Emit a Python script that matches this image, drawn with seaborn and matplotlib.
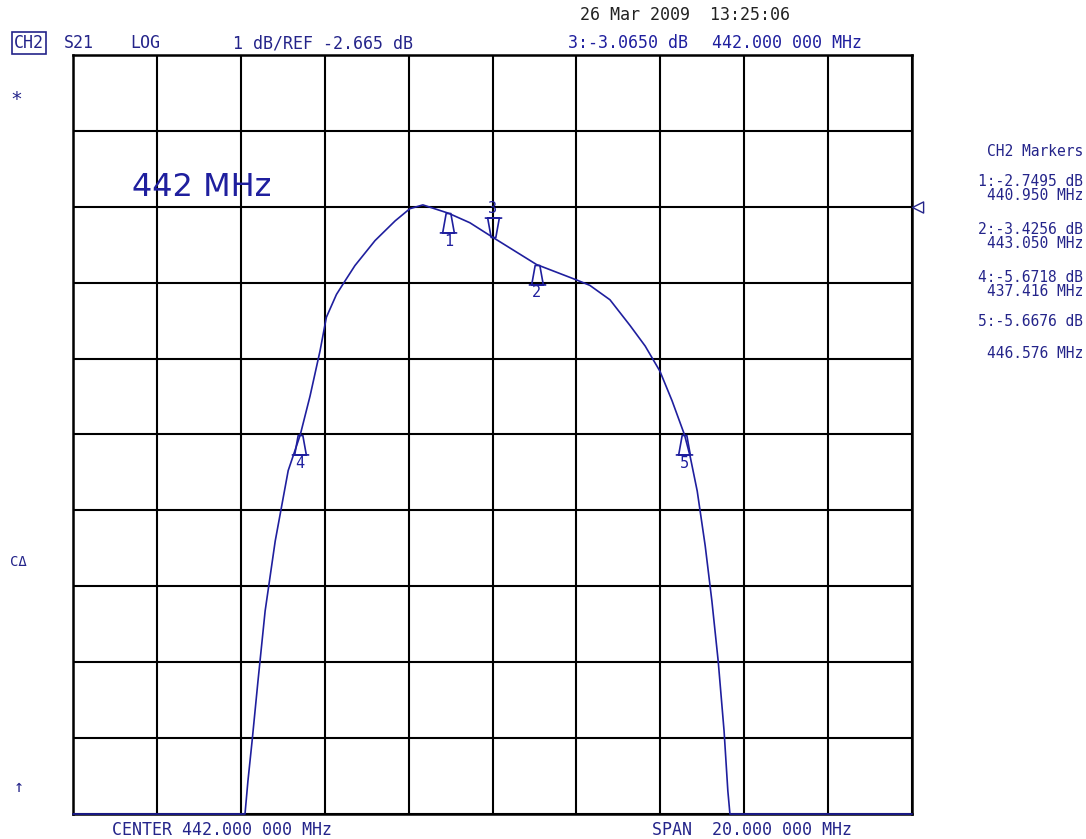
import numpy as np
import pandas as pd
import seaborn as sns
from matplotlib import pyplot as plt
from matplotlib.path import Path

# analyzer setup
center_mhz = 442.0
span_mhz = 20.0
ref_db = -2.665
db_per_div = 1.0
ref_pos = 8  # divisions from bottom

# S21 trace
trace_freq = [432.0, 436.0, 436.10, 436.17, 436.27, 436.41, 436.58, 436.82, 437.13, 437.416,
              437.65, 437.89, 438.04, 438.28, 438.44, 438.72, 439.20, 439.68, 440.03, 440.34,
              440.95, 441.46, 442.0, 443.05, 444.01, 444.32, 444.80, 445.28, 445.64, 445.99,
              446.28, 446.576, 446.71, 446.88, 447.07, 447.23, 447.38, 447.52, 447.61, 447.66,
              447.75, 452.0]
trace_db = [-30.0, -12.0, -10.68, -10.23, -9.70, -8.91, -7.99, -7.07, -6.14, -5.6718,
            -5.16, -4.56, -4.12, -3.82, -3.68, -3.44, -3.11, -2.85, -2.69, -2.64,
            -2.7495, -2.875, -3.065, -3.4256, -3.63, -3.70, -3.89, -4.23, -4.50, -4.83,
            -5.22, -5.6676, -5.95, -6.41, -7.13, -7.86, -8.65, -9.57, -10.36, -10.68,
            -12.0, -30.0]

# markers
marker_ids = [1, 2, 3, 4, 5]
marker_freq = [440.950, 443.050, 442.000, 437.416, 446.576]
marker_db = [-2.7495, -3.4256, -3.0650, -5.6718, -5.6676]
active_marker = 3

blue = '#1f1f9e'
navy = '#24248a'

top = ref_db + (10 - ref_pos) * db_per_div
bottom = ref_db - ref_pos * db_per_div
f_lo = center_mhz - span_mhz / 2
f_hi = center_mhz + span_mhz / 2

df = pd.DataFrame({'freq': trace_freq, 'db': np.clip(trace_db, bottom, top)})

sns.set_style('white')
plt.rcParams['font.family'] = ['DejaVu Sans Mono', 'DejaVu Sans']

W, H = 1086, 839
fig = plt.figure(figsize=(W / 100, H / 100), dpi=100)
ax = fig.add_axes([73 / W, 1 - 814 / H, 839 / W, 759 / H])

ax.set_xlim(f_lo, f_hi)
ax.set_ylim(bottom, top)
ax.set_xticks(np.linspace(f_lo, f_hi, 11))
ax.set_yticks(np.linspace(bottom, top, 11))
ax.tick_params(length=0, labelbottom=False, labelleft=False)
ax.grid(True, color='black', linewidth=1.5)
for s in ax.spines.values():
    s.set_color('black')
    s.set_linewidth(1.8)

sns.lineplot(data=df, x='freq', y='db', sort=False, estimator=None,
             color=blue, linewidth=1.2, ax=ax)
for l in ax.lines:
    l.set_clip_on(False)
    l.set_zorder(5)
ax.set_xlabel('')
ax.set_ylabel('')

# marker symbols: tip on the trace
up = Path([(-0.12, 0), (0.12, 0), (0.3, -1), (-0.3, -1), (-0.12, 0),
           (-0.45, -1), (0.45, -1)],
          [Path.MOVETO, Path.LINETO, Path.LINETO, Path.LINETO, Path.CLOSEPOLY,
           Path.MOVETO, Path.LINETO])
down = Path([(-0.12, 0), (0.12, 0), (0.3, 1), (-0.3, 1), (-0.12, 0),
             (-0.45, 1), (0.45, 1)],
            [Path.MOVETO, Path.LINETO, Path.LINETO, Path.LINETO, Path.CLOSEPOLY,
             Path.MOVETO, Path.LINETO])
for mid, mf, md in zip(marker_ids, marker_freq, marker_db):
    if mid == active_marker:
        ax.plot([mf], [md], marker=down, markersize=28, mfc='none', mec=blue,
                mew=1.2, zorder=6)
        ax.annotate(str(mid), (mf, md), xytext=(0, 15), textcoords='offset points',
                    ha='center', va='bottom', color=blue, fontsize=11)
    else:
        ax.plot([mf], [md], marker=up, markersize=28, mfc='none', mec=blue,
                mew=1.2, zorder=6)
        ax.annotate(str(mid), (mf, md), xytext=(0, -15), textcoords='offset points',
                    ha='center', va='top', color=blue, fontsize=11)

# reference level pointer on the right edge
ref_mark = Path([(0, 0), (1, 0.5), (1, -0.5), (0, 0)],
                [Path.MOVETO, Path.LINETO, Path.LINETO, Path.CLOSEPOLY])
ax.plot([f_hi], [ref_db], marker=ref_mark, markersize=16, mfc='none', mec=navy,
        mew=1.0, clip_on=False, zorder=6)

ax.text(433.4, ref_db + 0.25, f'{center_mhz:.0f} MHz', color=blue, fontsize=23,
        family='DejaVu Sans', ha='left', va='center')


def ft(x, y, s, **kw):
    kw.setdefault('fontsize', 12)
    kw.setdefault('color', navy)
    kw.setdefault('va', 'center')
    fig.text(x / W, 1 - y / H, s, **kw)


ft(580, 15, '26 Mar 2009  13:25:06', color='#222222')
ft(14, 43, 'CH2', bbox=dict(boxstyle='square,pad=0.12', fc='none', ec=navy, lw=1.2))
ft(64, 43, 'S21')
ft(130, 43, 'LOG')
ft(233, 43, f'{db_per_div:.0f} dB/REF {ref_db:.3f} dB')
i = marker_ids.index(active_marker)
ft(568, 43, f'{active_marker}:{marker_db[i]:.4f} dB', color=blue)
ft(712, 43, f'{marker_freq[i]:.3f} 000 MHz', color=blue)

ft(1083, 152, 'CH2 Markers', ha='right', fontsize=10.5)
rows = [(182, 196), (230, 244), None, (278, 292), (322, 353)]
for mid, mf, md, r in zip(marker_ids, marker_freq, marker_db, rows):
    if r is None:
        continue
    ft(1083, r[0], f'{mid}:{md:.4f} dB', ha='right', fontsize=10.5)
    ft(1083, r[1], f'{mf:.3f} MHz', ha='right', fontsize=10.5)

ft(10, 100, '*', fontsize=14)
ft(10, 562, 'C\u0394', fontsize=10)
ft(14, 787, '\u2191', fontsize=12)

ft(112, 830, f'CENTER {center_mhz:.3f} 000 MHz')
ft(652, 830, f'SPAN  {span_mhz:.3f} 000 MHz')

fig.savefig('out.png', dpi=100, facecolor='white')
